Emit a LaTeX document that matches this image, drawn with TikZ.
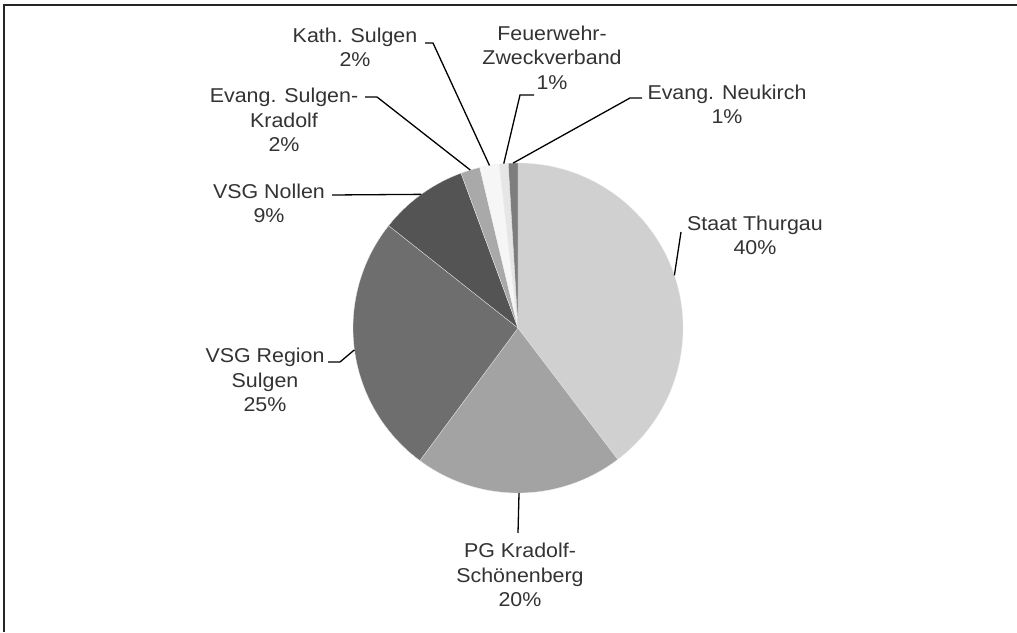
\documentclass[tikz,border=0pt]{standalone}
\usepackage{fontspec}
\setmainfont[FakeStretch=1.07]{Liberation Sans}
\definecolor{cStaat}{RGB}{208,208,208}
\definecolor{cPG}{RGB}{163,163,163}
\definecolor{cRegion}{RGB}{110,110,110}
\definecolor{cNollen}{RGB}{84,84,84}
\definecolor{cEvSK}{RGB}{169,169,169}
\definecolor{cKath}{RGB}{246,246,246}
\definecolor{cFeuer}{RGB}{230,230,230}
\definecolor{cNeuk}{RGB}{125,125,125}
\begin{document}
\begin{tikzpicture}[x=1pt,y=1pt,
  lbl/.style={align=center, font=\fontsize{20}{24.5}\selectfont, inner sep=0pt, text=black!80},
  leader/.style={draw=black, line width=1.3pt},
  slice/.style={draw=white!85!gray, line width=0.3pt},
  frame/.style={draw=black!85, line width=2pt}]
\useasboundingbox (0,0) rectangle (1017,632);
\fill[white] (0,0) rectangle (1017,632);
\draw[frame] (3.5,0) -- (3.5,627) -- (1017,627);
\coordinate (c) at (518,304);
% slices
\foreach \a/\b/\col in {90/-52.8/cStaat, -52.8/-126.5/cPG, -126.5/-218.35/cRegion,
  -218.35/-249.8/cNollen, -249.8/-256.6/cEvSK, -256.6/-263.5/cKath,
  -263.5/-266.6/cFeuer, -266.6/-270/cNeuk}
  \filldraw[slice, fill=\col] (c) -- ++(\a:165) arc[start angle=\a, end angle=\b, radius=165] -- cycle;
% pie edge points
\path (c) ++(18.6:165) coordinate (pStaat);
\path (c) ++(-89.65:165) coordinate (pPG);
\path (c) ++(-172.4:165) coordinate (pRegion);
\path (c) ++(-234.1:165) coordinate (pNollen);
\path (c) ++(-253.2:165) coordinate (pEvSK);
\path (c) ++(-260.05:165) coordinate (pKath);
\path (c) ++(-265.05:165) coordinate (pFeuer);
\path (c) ++(-268.3:165) coordinate (pNeuk);
% labels
\node[lbl] (lStaat) at (755,396.5) {Staat Thurgau\\40\%};
\node[lbl] (lPG) at (520,57) {PG Kradolf-\\Schönenberg\\20\%};
\node[lbl] (lRegion) at (265,252) {VSG Region\\Sulgen\\25\%};
\node[lbl] (lNollen) at (269,428.5) {VSG Nollen\\9\%};
\node[lbl] (lEvSK) at (284,512) {Evang. Sulgen-\\Kradolf\\2\%};
\node[lbl] (lKath) at (355,584.5) {Kath. Sulgen\\2\%};
\node[lbl] (lFeuer) at (552,574.5) {Feuerwehr-\\Zweckverband\\1\%};
\node[lbl] (lNeuk) at (727,527.5) {Evang. Neukirch\\1\%};
% leader bend points
\coordinate (sStaat) at (681,400);
\coordinate (sPG) at (518,99);
\coordinate (sRegion) at (328,270);
\coordinate (bRegion) at (340,270);
\coordinate (sNollen) at (332,437);
\coordinate (sEvSK) at (365,535);
\coordinate (bEvSK) at (377,535);
\coordinate (sKath) at (425,589);
\coordinate (bKath) at (433,589);
\coordinate (sFeuer) at (534,537);
\coordinate (bFeuer) at (520,537);
\coordinate (sNeuk) at (642,534);
\coordinate (bNeuk) at (630,534);
% leaders
\draw[leader] (sStaat) -- (pStaat);
\draw[leader] (sPG) -- (pPG);
\draw[leader] (sRegion) -- (bRegion) -- (pRegion);
\draw[leader] (sNollen) -- (pNollen);
\draw[leader] (sEvSK) -- (bEvSK) -- (pEvSK);
\draw[leader] (sKath) -- (bKath) -- (pKath);
\draw[leader] (sFeuer) -- (bFeuer) -- (pFeuer);
\draw[leader] (sNeuk) -- (bNeuk) -- (pNeuk);
\end{tikzpicture}
\end{document}
